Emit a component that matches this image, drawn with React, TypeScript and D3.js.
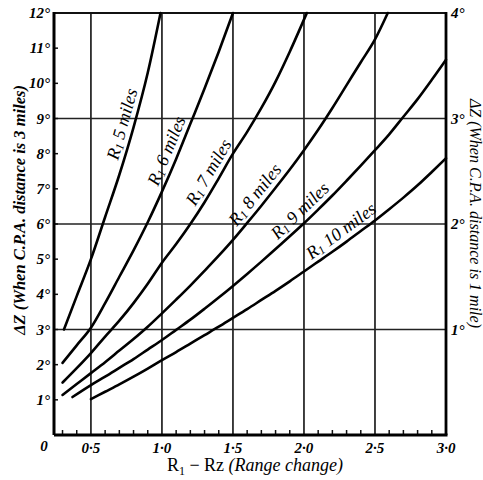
import React from "react";
import * as d3 from "d3";

// x: R1 - Rz (range change, miles), y: change of bearing in degrees (CPA 3 miles)
const rangeTicks = [0.5, 1.0, 1.5, 2.0, 2.5, 3.0];
const rangeTickLabels = ["0·5", "1·0", "1·5", "2·0", "2·5", "3·0"];
const rangeGrid = [0.5, 1.0, 1.5, 2.0, 2.5];
const degTicks = [1, 2, 3, 4, 5, 6, 7, 8, 9, 10, 11, 12];
const degGrid = [3, 6, 9];
const rightTicks = [1, 2, 3, 4];

const miles5 = [[0.31, 3.0], [0.4, 3.95], [0.5, 5.0], [0.6, 6.2], [0.7, 7.4], [0.8, 8.75], [0.9, 10.3], [0.99, 12.0]];
const miles6 = [[0.3, 2.05], [0.4, 2.55], [0.5, 3.05], [0.6, 3.75], [0.7, 4.5], [0.8, 5.25], [0.9, 6.05], [1.0, 6.92], [1.1, 7.85], [1.2, 8.85], [1.3, 9.85], [1.4, 10.9], [1.5, 12.0]];
const miles7 = [[0.3, 1.49], [0.4, 1.9], [0.5, 2.33], [0.6, 2.8], [0.7, 3.25], [0.8, 3.75], [0.9, 4.3], [1.0, 4.9], [1.1, 5.43], [1.2, 6.0], [1.3, 6.62], [1.4, 7.3], [1.5, 8.0], [1.6, 8.62], [1.7, 9.3], [1.8, 10.05], [1.9, 10.9], [2.02, 12.0]];
const miles8 = [[0.3, 1.14], [0.4, 1.45], [0.5, 1.76], [0.6, 2.07], [0.7, 2.4], [0.8, 2.73], [0.9, 3.08], [1.0, 3.46], [1.1, 3.85], [1.2, 4.25], [1.3, 4.67], [1.4, 5.1], [1.5, 5.55], [1.6, 6.03], [1.7, 6.52], [1.8, 7.03], [1.9, 7.55], [2.0, 8.1], [2.1, 8.68], [2.2, 9.3], [2.3, 9.95], [2.4, 10.6], [2.5, 11.25], [2.59, 12.0]];
const miles9 = [[0.37, 1.08], [0.5, 1.42], [0.6, 1.66], [0.7, 1.91], [0.8, 2.16], [0.9, 2.43], [1.0, 2.7], [1.1, 2.99], [1.2, 3.28], [1.3, 3.59], [1.4, 3.91], [1.5, 4.24], [1.6, 4.58], [1.7, 4.93], [1.8, 5.29], [1.9, 5.65], [2.0, 6.02], [2.1, 6.41], [2.2, 6.81], [2.3, 7.23], [2.4, 7.66], [2.5, 8.1], [2.6, 8.55], [2.7, 9.05], [2.8, 9.55], [2.9, 10.1], [3.0, 10.67]];
const miles10 = [[0.5, 1.02], [0.6, 1.23], [0.7, 1.44], [0.8, 1.66], [0.9, 1.89], [1.0, 2.13], [1.1, 2.36], [1.2, 2.6], [1.3, 2.84], [1.4, 3.08], [1.5, 3.33], [1.6, 3.58], [1.7, 3.84], [1.8, 4.1], [1.9, 4.37], [2.0, 4.65], [2.1, 4.93], [2.2, 5.21], [2.3, 5.5], [2.4, 5.8], [2.5, 6.1], [2.6, 6.42], [2.7, 6.75], [2.8, 7.1], [2.9, 7.48], [3.0, 7.87]];

const curves = [miles5, miles6, miles7, miles8, miles9, miles10];
const curveNames = ["5 miles", "6 miles", "7 miles", "8 miles", "9 miles", "10 miles"];
const labelAt = [0.8, 1.11, 1.4, 1.72, 2.03, 2.31];

const W = 483;
const H = 480;

const x = d3.scaleLinear().domain([0.24, 3.0]).range([54, 446]);
const y = d3.scaleLinear().domain([0, 12]).range([435, 13]);
const yRight = d3.scaleLinear().domain([0, 4]).range([435, 13]);

const line = d3
  .line<number[]>()
  .x(d => x(d[0]))
  .y(d => y(d[1]))
  .curve(d3.curveMonotoneX);

// value on a curve at range change v (linear between read points)
const valueAt = (pts: number[][], v: number) => {
  const i = Math.max(1, Math.min(pts.length - 1, d3.bisector((d: number[]) => d[0]).left(pts, v)));
  const a = pts[i - 1];
  const b = pts[i];
  const t = (v - a[0]) / (b[0] - a[0]);
  return a[1] + t * (b[1] - a[1]);
};

const serif = "'Liberation Serif', 'DejaVu Serif', serif";

const App = () => {
  const minor = d3.range(0.3, 3.0, 0.1).filter(v => Math.abs(v * 2 - Math.round(v * 2)) > 0.01);

  return (
    <svg width={W} height={H} style={{ position: "absolute", left: 0, top: 0, background: "#fff" }}>
      {/* grid */}
      {rangeGrid.map(v => (
        <line key={"gx" + v} x1={x(v)} x2={x(v)} y1={y(0)} y2={y(12)} stroke="#111" strokeWidth={1.6} />
      ))}
      {degGrid.map(v => (
        <line key={"gy" + v} x1={x.range()[0]} x2={x.range()[1]} y1={y(v)} y2={y(v)} stroke="#222" strokeWidth={1.6} />
      ))}

      {/* minor ticks */}
      {minor.map(v => (
        <line key={"mx" + v} x1={x(v)} x2={x(v)} y1={y(0)} y2={y(0) - 5} stroke="#111" strokeWidth={1.5} />
      ))}
      {degTicks.map(v => (
        <line key={"my" + v} x1={x.range()[0]} x2={x.range()[0] + 4} y1={y(v)} y2={y(v)} stroke="#111" strokeWidth={1.5} />
      ))}

      {/* frame */}
      <line x1={x.range()[0]} x2={x.range()[1]} y1={y(12)} y2={y(12)} stroke="#111" strokeWidth={2} />
      <line x1={x.range()[0]} x2={x.range()[1] + 1.5} y1={y(0)} y2={y(0)} stroke="#000" strokeWidth={3} />
      <line x1={x.range()[0]} x2={x.range()[0]} y1={y(12) - 1} y2={y(0)} stroke="#000" strokeWidth={3} />
      <line x1={x.range()[1]} x2={x.range()[1]} y1={y(12) - 1} y2={y(0)} stroke="#000" strokeWidth={2.8} />

      {/* curves */}
      {curves.map((pts, i) => (
        <path key={"c" + i} d={line(pts) || ""} fill="none" stroke="#000" strokeWidth={2.6} strokeLinecap="round" />
      ))}

      {/* curve labels */}
      {curves.map((pts, i) => {
        const v = labelAt[i];
        const p0 = [x(v - 0.03), y(valueAt(pts, v - 0.03))];
        const p1 = [x(v + 0.03), y(valueAt(pts, v + 0.03))];
        const ang = Math.atan2(p1[1] - p0[1], p1[0] - p0[0]);
        const px = x(v);
        const py = y(valueAt(pts, v));
        const d = 12;
        const cx = px + Math.sin(ang) * d;
        const cy = py - Math.cos(ang) * d;
        return (
          <text
            key={"l" + i}
            transform={`translate(${cx},${cy}) rotate(${(ang * 180) / Math.PI})`}
            textAnchor="middle"
            dominantBaseline="central"
            fontFamily={serif}
            fontStyle="italic"
            fontSize={18}
            fill="#000"
          >
            R<tspan dy={4} fontSize={12}>1</tspan>
            <tspan dy={-4}>{" " + curveNames[i]}</tspan>
          </text>
        );
      })}

      {/* left axis labels */}
      {degTicks.map(v => (
        <text key={"ly" + v} x={x.range()[0] - 4} y={y(v)} textAnchor="end" dominantBaseline="central"
          fontFamily={serif} fontStyle="italic" fontWeight="bold" fontSize={15} fill="#000">
          {v}°
        </text>
      ))}
      <text x={x.range()[0] - 10} y={y(0) + 11} textAnchor="middle" dominantBaseline="central"
        fontFamily={serif} fontStyle="italic" fontWeight="bold" fontSize={15} fill="#000">
        0
      </text>

      {/* right axis labels */}
      {rightTicks.map(v => (
        <text key={"ry" + v} x={x.range()[1] + 5} y={yRight(v)} textAnchor="start" dominantBaseline="central"
          fontFamily={serif} fontStyle="italic" fontWeight="bold" fontSize={15} fill="#000">
          {v}°
        </text>
      ))}

      {/* bottom axis labels */}
      {rangeTicks.map((v, i) => (
        <text key={"bx" + v} x={x(v)} y={y(0) + 13} textAnchor="middle" dominantBaseline="central"
          fontFamily={serif} fontStyle="italic" fontWeight="bold" fontSize={15} fill="#000">
          {rangeTickLabels[i]}
        </text>
      ))}

      {/* axis titles */}
      <text x={255} y={471} textAnchor="middle" fontFamily={serif} fontSize={18} fill="#000">
        R<tspan dy={4} fontSize={12}>1</tspan>
        <tspan dy={-4}> − Rz </tspan>
        <tspan fontStyle="italic">(Range change)</tspan>
      </text>
      <text transform={`translate(19,${y(6.4)}) rotate(-90)`} textAnchor="middle" dominantBaseline="central"
        fontFamily={serif} fontStyle="italic" fontWeight="bold" fontSize={16.5} fill="#000">
        ΔZ (When C.P.A. distance is 3 miles)
      </text>
      <text transform={`translate(475,${y(6.3)}) rotate(90)`} textAnchor="middle" dominantBaseline="central"
        fontFamily={serif} fontStyle="italic" fontSize={16} fill="#000">
        ΔZ (When C.P.A. distance is 1 mile)
      </text>
    </svg>
  );
};

export default App;
